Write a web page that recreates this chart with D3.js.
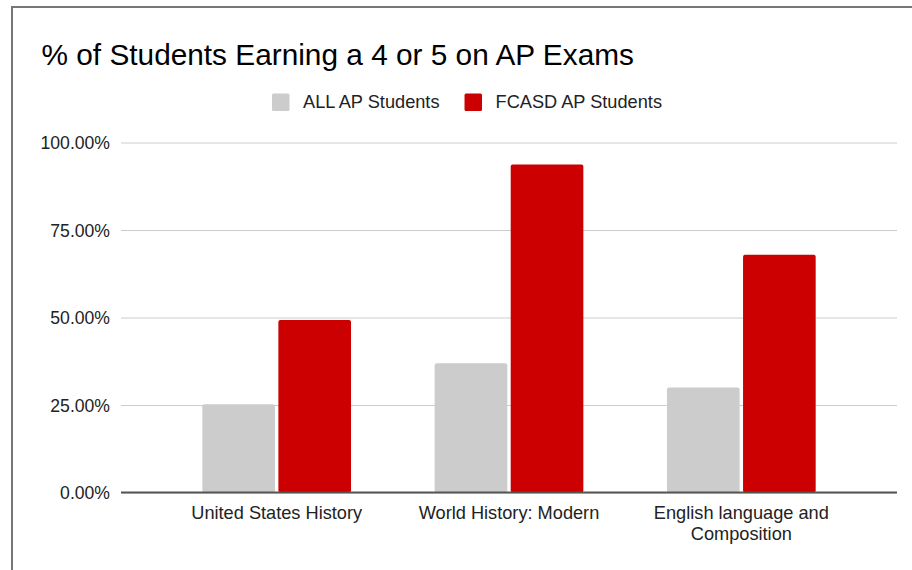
<!DOCTYPE html>
<html>
<head>
<meta charset="utf-8">
<script src="https://cdn.jsdelivr.net/npm/d3@7"></script>
<style>
  body { margin: 0; background: #fff; }
  svg { display: block; font-family: Arial, "Liberation Sans", sans-serif; }
</style>
</head>
<body>
<div class="chart"></div>
<script>
// chart data
var categories = ["United States History", "World History: Modern", "English language and Composition"];
var seriesNames = ["ALL AP Students", "FCASD AP Students"];
var allStudents = [0.252, 0.369, 0.300];
var fcasdStudents = [0.493, 0.937, 0.679];
var yTicks = [0, 0.25, 0.5, 0.75, 1];
var colors = ["#cccccc", "#cc0000"];

var svgWidth = 912;
var svgHeight = 570;

var margin = { top: 142.5, bottom: 77.5, left: 121, right: 15 };
var width = svgWidth - margin.left - margin.right;
var height = svgHeight - margin.top - margin.bottom;

var svg = d3.select(".chart")
  .append("svg")
  .attr("width", svgWidth)
  .attr("height", svgHeight);

// frame (only top and left edges show in the picture)
svg.append("rect")
  .attr("x", 12)
  .attr("y", 7)
  .attr("width", 1000)
  .attr("height", 1000)
  .attr("fill", "none")
  .attr("stroke", "#777")
  .attr("stroke-width", 2);

// title
svg.append("text")
  .attr("x", 41.5)
  .attr("y", 65)
  .attr("font-size", "29.8px")
  .attr("fill", "#000")
  .text("% of Students Earning a 4 or 5 on AP Exams");

// legend
var legend = svg.append("g").attr("transform", "translate(272, 0)");
var legendX = 0;
seriesNames.forEach(function(name, i) {
  var item = legend.append("g").attr("transform", `translate(${legendX}, 0)`);
  item.append("rect")
    .attr("x", 0)
    .attr("y", 93.5)
    .attr("width", 17.5)
    .attr("height", 17.5)
    .attr("rx", 1.5)
    .attr("fill", colors[i]);
  var label = item.append("text")
    .attr("x", 31)
    .attr("y", 108)
    .attr("font-size", "18.2px")
    .attr("fill", "#222")
    .text(name);
  legendX += 31 + label.node().getComputedTextLength() + 25;
});

var chartGroup = svg.append("g")
  .attr("transform", `translate(${margin.left}, ${margin.top})`);

// scales
var xScale = d3.scaleBand()
  .domain(categories)
  .range([0, width])
  .paddingInner(0.36)
  .paddingOuter(0.35);

var xInner = d3.scaleBand()
  .domain(seriesNames)
  .range([0, xScale.bandwidth()])
  .paddingInner(0.045);

var yScale = d3.scaleLinear()
  .domain([0, 1])
  .range([height, 0]);

// gridlines
chartGroup.append("g")
  .attr("class", "grid")
  .call(d3.axisLeft(yScale).tickValues(yTicks).tickSize(-width).tickFormat(""))
  .call(g => g.select(".domain").remove())
  .call(g => g.selectAll("line").attr("stroke", "#cccccc").attr("stroke-width", 1));

// y axis labels
chartGroup.append("g")
  .call(d3.axisLeft(yScale).tickValues(yTicks).tickSize(0).tickPadding(11).tickFormat(d3.format(".2%")))
  .call(g => g.select(".domain").remove())
  .call(g => g.selectAll("text")
    .attr("font-size", "17.6px")
    .attr("font-family", "Arial, 'Liberation Sans', sans-serif")
    .attr("fill", "#222")
    .attr("dy", "0.36em"));

// bars
var rows = categories.map(function(c, i) {
  return { category: c, values: [allStudents[i], fcasdStudents[i]] };
});

var groups = chartGroup.selectAll(".group")
  .data(rows)
  .enter()
  .append("g")
  .attr("class", "group")
  .attr("transform", d => `translate(${xScale(d.category)}, 0)`);

groups.selectAll("rect")
  .data(d => d.values.map((v, i) => ({ series: seriesNames[i], value: v, color: colors[i] })))
  .enter()
  .append("rect")
  .attr("x", d => xInner(d.series))
  .attr("y", d => yScale(d.value))
  .attr("width", xInner.bandwidth())
  .attr("height", d => height - yScale(d.value))
  .attr("rx", 2)
  .attr("fill", d => d.color);

// x axis
var xAxisGroup = chartGroup.append("g")
  .attr("transform", `translate(0, ${height})`)
  .call(d3.axisBottom(xScale).tickSize(0).tickPadding(14));

xAxisGroup.select(".domain").remove();

chartGroup.append("line")
  .attr("x1", 0)
  .attr("x2", width)
  .attr("y1", height)
  .attr("y2", height)
  .attr("stroke", "#555")
  .attr("stroke-width", 2);

// wrap long labels onto two lines
xAxisGroup.selectAll("text")
  .attr("font-size", "18.2px")
  .attr("font-family", "Arial, 'Liberation Sans', sans-serif")
  .attr("fill", "#222")
  .each(function(d) {
    var text = d3.select(this);
    if (d.length > 24) {
      var words = d.split(" ");
      var first = words.slice(0, 3).join(" ");
      var second = words.slice(3).join(" ");
      text.text(null);
      text.append("tspan").attr("x", 0).attr("dy", "0.71em").text(first);
      text.append("tspan").attr("x", 0).attr("dy", "21px").text(second);
      text.attr("dy", null);
    }
  });
</script>
</body>
</html>
